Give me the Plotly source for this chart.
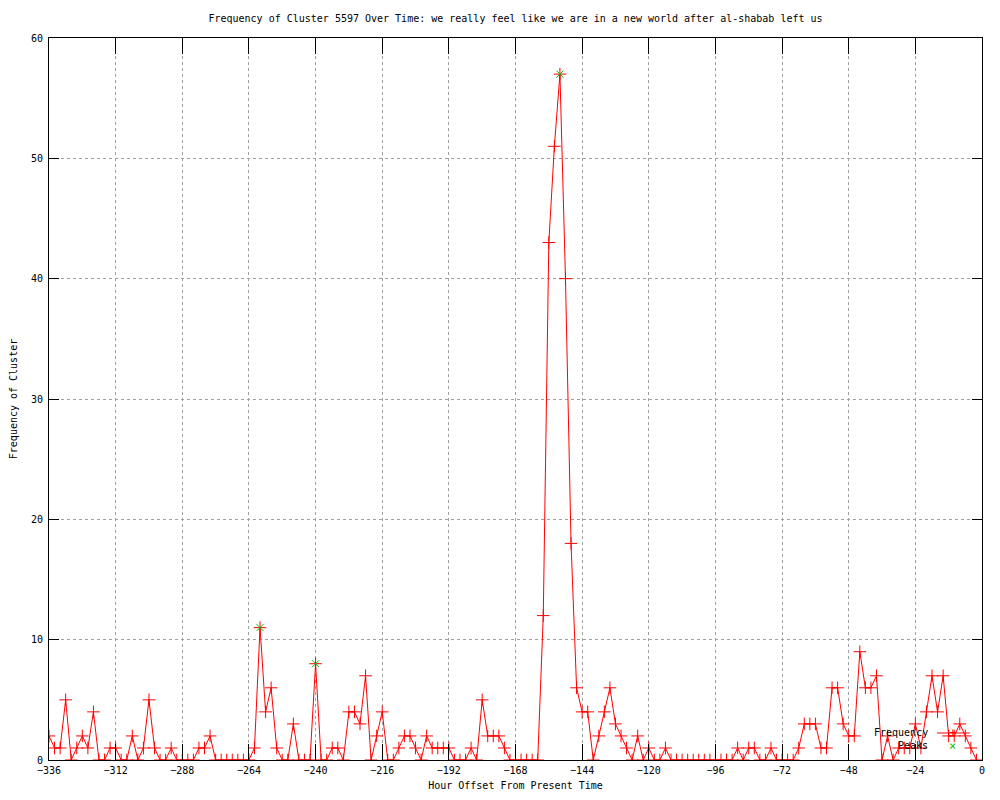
import plotly.graph_objects as go

# Hour offsets (every 2 hours from -336 up to -2)
hours = list(range(-336, 0, 2))

frequency = [
    2, 1, 1, 5, 0, 1, 2, 1, 4, 0,
    0, 1, 1, 0, 0, 2, 0, 1, 5, 1,
    0, 0, 1, 0, 0, 0, 0, 1, 1, 2,
    0, 0, 0, 0, 0, 0, 0, 1, 11, 4,
    6, 1, 0, 0, 3, 0, 0, 0, 8, 0,
    0, 1, 1, 0, 4, 4, 3, 7, 0, 2,
    4, 0, 0, 1, 2, 2, 1, 0, 2, 1,
    1, 1, 1, 0, 0, 0, 1, 0, 5, 2,
    2, 2, 1, 0, 0, 0, 0, 0, 0, 12,
    43, 51, 57, 40, 18, 6, 4, 4, 0, 2,
    4, 6, 3, 2, 1, 0, 2, 0, 1, 0,
    0, 1, 0, 0, 0, 0, 0, 0, 0, 0,
    0, 0, 0, 0, 1, 0, 1, 1, 0, 0,
    1, 0, 0, 0, 0, 1, 3, 3, 3, 1,
    1, 6, 6, 3, 2, 2, 9, 6, 6, 7,
    0, 2, 0, 1, 1, 1, 3, 1, 4, 7,
    4, 7, 2, 2, 3, 2, 1, 0,
]

peak_hours = [-260, -240, -152]
peak_values = [11, 8, 57]

x_ticks = [-336, -312, -288, -264, -240, -216, -192, -168, -144, -120, -96, -72, -48, -24, 0]
y_ticks = [0, 10, 20, 30, 40, 50, 60]

title_text = "Frequency of Cluster 5597 Over Time: we really feel like we are in a new world after al-shabab left us"

FONT = "DejaVu Sans Mono"
RED = "#ff0000"
GREEN = "#00c000"

fig = go.Figure()
fig.add_trace(go.Scatter(
    x=hours, y=frequency, mode="lines+markers", name="Frequency",
    line=dict(color=RED, width=1),
    marker=dict(symbol="cross-thin", size=9, line=dict(color=RED, width=1), color=RED),
    showlegend=False,
))
fig.add_trace(go.Scatter(
    x=peak_hours, y=peak_values, mode="markers", name="Peaks",
    marker=dict(symbol="x-thin", size=7, line=dict(color=GREEN, width=1), color=GREEN),
    showlegend=False,
))

axis_common = dict(
    showline=True, linecolor="black", linewidth=1, mirror="ticks",
    ticks="inside", tickcolor="black", tickwidth=1,
    showgrid=True, gridcolor="#a0a0a0", griddash="dot", gridwidth=1,
    zeroline=False, automargin=False,
    tickfont=dict(family=FONT, size=10, color="black"),
)

fig.update_xaxes(
    range=[-336, 0], tickvals=x_ticks, ticklen=16, ticklabelstandoff=1,
    title=dict(text="Hour Offset From Present Time", font=dict(family=FONT, size=10, color="black"), standoff=6),
    **axis_common,
)
fig.update_yaxes(
    range=[0, 60], tickvals=y_ticks, ticklen=10, ticklabelstandoff=3,
    title=dict(text="Frequency of Cluster", font=dict(family=FONT, size=10, color="black"), standoff=20),
    **axis_common,
)

# gnuplot-style key: text on the left, sample on the right
fig.add_annotation(xref="paper", yref="paper", x=0.944, y=0.0374, text="Frequency",
                   showarrow=False, xanchor="right", yanchor="middle",
                   font=dict(family=FONT, size=10, color="black"))
fig.add_annotation(xref="paper", yref="paper", x=0.944, y=0.0194, text="Peaks",
                   showarrow=False, xanchor="right", yanchor="middle",
                   font=dict(family=FONT, size=10, color="black"))
fig.add_shape(type="line", xref="paper", yref="paper", x0=0.9518, x1=0.9871, y0=0.0374, y1=0.0374,
              line=dict(color=RED, width=1))
fig.add_annotation(xref="paper", yref="paper", x=0.9689, y=0.0374, text="+",
                   showarrow=False, xanchor="center", yanchor="middle",
                   font=dict(family=FONT, size=13, color=RED))
fig.add_annotation(xref="paper", yref="paper", x=0.9689, y=0.0194, text="×",
                   showarrow=False, xanchor="center", yanchor="middle",
                   font=dict(family=FONT, size=12, color=GREEN))

# page body has an 8px margin, so the figure is 16px smaller and margins shifted by 8px
fig.update_layout(
    width=984, height=784,
    margin=dict(l=41, r=10, t=30, b=32),
    paper_bgcolor="white", plot_bgcolor="white",
    title=dict(text=title_text, x=0.5, xref="paper", y=1 - 10 / 784, yref="container",
               xanchor="center", yanchor="middle",
               font=dict(family=FONT, size=10, color="black")),
    font=dict(family=FONT, size=10, color="black"),
    showlegend=False,
)

fig.write_html("out.html")
